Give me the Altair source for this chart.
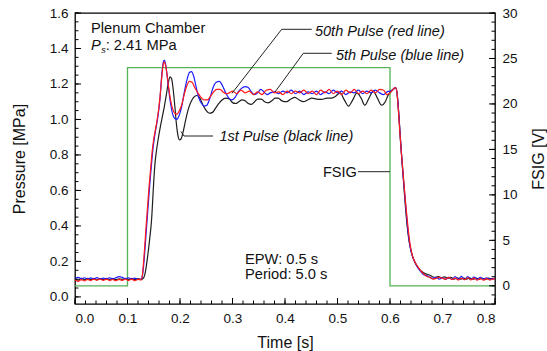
import altair as alt
import pandas as pd

# ---------------- data ----------------
red_t = [0.000,0.006,0.012,0.018,0.024,0.030,0.036,0.042,0.048,0.054,0.060,0.066,0.072,0.078,0.084,0.090,0.096,0.102,0.108,0.114,0.120,0.126,
         0.129,0.132,0.135,0.138,0.141,0.144,0.147,0.150,0.153,0.156,0.159,0.162,0.165,0.168,0.170,0.172,0.175,0.178,0.182,0.186,0.190,0.194,0.198,
         0.203,0.208,0.213,0.218,0.223,0.228,0.234,0.240,0.246,0.252,0.258,0.264,0.270,0.276,0.282,0.288,0.294,0.300,
         0.308,0.316,0.324,0.332,0.340,0.348,0.356,0.364,0.372,0.380,0.388,0.396,0.404,0.412,0.420,0.428,0.436,0.444,0.452,0.460,0.468,0.476,
         0.484,0.492,0.500,0.508,0.516,0.524,0.532,0.540,0.548,0.556,0.564,0.572,0.580,0.588,0.594,0.600,0.606,0.610,0.613,0.616,0.619,0.622,
         0.626,0.630,0.634,0.638,0.642,0.647,0.652,0.658,0.664,0.670,0.676,0.682,0.688,0.694,0.700,0.706,0.712,0.718,0.724,0.730,0.736,0.742,
         0.748,0.754,0.760,0.766,0.772,0.778,0.784,0.790,0.796,0.800]
red_p = [0.095,0.088,0.097,0.090,0.099,0.092,0.100,0.094,0.101,0.093,0.100,0.092,0.098,0.091,0.099,0.093,0.101,0.092,0.100,0.091,0.099,0.095,
         0.14,0.25,0.38,0.50,0.62,0.72,0.82,0.89,0.94,0.99,1.05,1.13,1.23,1.31,1.325,1.31,1.26,1.19,1.11,1.06,1.035,1.03,1.045,
         1.08,1.14,1.19,1.215,1.21,1.18,1.15,1.125,1.11,1.11,1.13,1.155,1.17,1.17,1.155,1.145,1.15,1.16,
         1.145,1.165,1.15,1.16,1.14,1.155,1.14,1.165,1.17,1.15,1.155,1.14,1.16,1.145,1.16,1.15,1.165,1.145,1.16,1.14,1.165,1.15,
         1.17,1.145,1.16,1.14,1.165,1.15,1.17,1.145,1.16,1.145,1.165,1.15,1.17,1.165,1.14,1.15,1.17,1.18,1.16,1.05,0.92,0.80,
         0.66,0.52,0.40,0.30,0.24,0.20,0.175,0.15,0.13,0.115,0.11,0.10,0.105,0.11,0.105,0.10,0.11,0.098,0.106,0.095,0.105,0.097,
         0.108,0.096,0.106,0.094,0.104,0.094,0.103,0.095,0.102,0.100]

blue_t = [0.000,0.006,0.012,0.018,0.024,0.030,0.036,0.042,0.048,0.054,0.060,0.066,0.072,0.078,0.084,0.090,0.096,0.102,0.108,0.114,0.120,0.126,
          0.129,0.132,0.135,0.138,0.141,0.144,0.147,0.150,0.153,0.156,0.159,0.162,0.165,0.168,0.170,0.172,0.175,0.178,0.182,0.186,0.190,0.194,0.198,
          0.203,0.208,0.213,0.218,0.222,0.226,0.231,0.236,0.241,0.246,0.251,0.257,0.263,0.269,0.275,0.281,0.287,0.293,0.299,0.305,0.311,0.317,
          0.324,0.330,0.336,0.342,0.348,0.354,0.360,0.366,0.372,0.380,0.388,0.396,0.404,0.412,0.420,0.428,0.436,0.444,0.452,0.460,0.468,0.476,
          0.484,0.492,0.500,0.508,0.516,0.524,0.532,0.540,0.548,0.556,0.564,0.572,0.580,0.588,0.594,0.600,0.606,0.610,0.613,0.616,0.619,0.622,
          0.626,0.630,0.634,0.638,0.642,0.647,0.652,0.658,0.664,0.670,0.676,0.682,0.688,0.694,0.700,0.706,0.712,0.718,0.724,0.730,0.736,0.742,
          0.748,0.754,0.760,0.766,0.772,0.778,0.784,0.790,0.796,0.800]
blue_p = [0.105,0.110,0.102,0.108,0.100,0.107,0.101,0.109,0.100,0.106,0.102,0.108,0.101,0.108,0.114,0.110,0.103,0.108,0.100,0.106,0.098,0.100,
          0.13,0.22,0.34,0.46,0.58,0.69,0.79,0.87,0.93,0.98,1.04,1.12,1.24,1.32,1.335,1.32,1.26,1.18,1.09,1.03,1.005,1.0,1.02,
          1.07,1.15,1.22,1.265,1.27,1.245,1.18,1.12,1.09,1.075,1.08,1.12,1.18,1.21,1.215,1.19,1.15,1.12,1.11,1.125,1.155,1.175,
          1.185,1.18,1.155,1.14,1.15,1.17,1.155,1.14,1.15,1.155,1.145,1.16,1.15,1.165,1.145,1.16,1.14,1.155,1.145,1.16,1.14,1.155,
          1.145,1.165,1.15,1.16,1.14,1.155,1.15,1.165,1.145,1.16,1.15,1.165,1.15,1.14,1.155,1.16,1.17,1.18,1.16,1.06,0.93,0.80,
          0.65,0.51,0.38,0.29,0.235,0.20,0.17,0.145,0.125,0.12,0.11,0.105,0.11,0.10,0.108,0.098,0.11,0.098,0.115,0.098,0.116,0.097,
          0.114,0.098,0.112,0.099,0.11,0.10,0.108,0.10,0.105,0.10]

black_t = [0.000,0.006,0.012,0.018,0.024,0.030,0.036,0.042,0.048,0.054,0.060,0.066,0.072,0.078,0.084,0.090,0.096,0.102,0.108,0.114,0.120,0.126,
           0.130,0.134,0.138,0.142,0.146,0.149,0.152,0.155,0.158,0.162,0.166,0.170,0.174,0.178,0.181,0.184,0.187,0.190,0.193,0.196,0.199,0.202,
           0.206,0.211,0.216,0.221,0.226,0.232,0.238,0.244,0.250,0.256,0.262,0.268,0.274,0.280,0.287,0.294,0.300,0.306,0.312,0.318,0.324,0.330,
           0.336,0.342,0.348,0.355,0.361,0.368,0.375,0.381,0.387,0.394,0.403,0.411,0.419,0.427,0.435,0.443,0.451,0.460,0.470,0.480,0.488,0.496,
           0.505,0.513,0.521,0.529,0.537,0.545,0.552,0.560,0.568,0.576,0.584,0.591,0.597,0.603,0.608,0.611,0.614,0.617,0.620,0.624,0.628,0.632,
           0.636,0.640,0.645,0.650,0.656,0.662,0.668,0.674,0.680,0.686,0.692,0.698,0.704,0.710,0.716,0.722,0.728,0.734,0.740,0.746,0.752,0.758,
           0.764,0.770,0.776,0.782,0.788,0.794,0.800]
black_p = [0.100,0.095,0.104,0.097,0.105,0.098,0.104,0.096,0.103,0.097,0.104,0.098,0.103,0.097,0.102,0.099,0.104,0.098,0.104,0.097,0.103,0.099,
           0.105,0.14,0.22,0.32,0.44,0.60,0.74,0.82,0.88,0.95,1.01,1.07,1.14,1.21,1.24,1.23,1.17,1.08,0.98,0.91,0.885,0.89,
           0.93,1.0,1.06,1.10,1.125,1.135,1.12,1.08,1.05,1.035,1.04,1.065,1.09,1.11,1.12,1.115,1.095,1.09,1.10,1.11,1.105,1.09,
           1.085,1.10,1.115,1.115,1.10,1.094,1.105,1.12,1.12,1.105,1.10,1.115,1.124,1.11,1.10,1.11,1.12,1.115,1.113,1.12,1.12,1.13,
           1.15,1.11,1.075,1.11,1.15,1.12,1.08,1.12,1.16,1.12,1.08,1.10,1.14,1.16,1.175,1.18,1.13,1.02,0.88,0.72,0.56,0.42,
           0.32,0.26,0.21,0.18,0.155,0.14,0.13,0.125,0.115,0.11,0.115,0.108,0.113,0.105,0.11,0.10,0.108,0.10,0.106,0.10,0.107,0.099,
           0.106,0.10,0.105,0.098,0.106,0.10,0.105]

fsig_t = [0.0, 0.1, 0.1, 0.6, 0.6, 0.8]
fsig_v = [0, 0, 24, 24, 0, 0]

# axis tick values
x_labels = [0.0, 0.1, 0.2, 0.3, 0.4, 0.5, 0.6, 0.7, 0.8]
p_labels = [0.0, 0.2, 0.4, 0.6, 0.8, 1.0, 1.2, 1.4, 1.6]
v_labels = [0, 5, 10, 15, 20, 25, 30]
x_minor = [round(i * 0.02, 2) for i in range(41)]
p_minor = [round(i * 0.05, 2) for i in range(33)]
v_minor = list(range(-2, 31))

# annotation positions in data units (t, p)
leader_id = [0, 0, 0, 1, 1, 1, 2, 2, 2, 3, 3]
leader_t = [0.4509, 0.3937, 0.2990, 0.4890, 0.4349, 0.3810, 0.2629, 0.2076, 0.2019, 0.5390, 0.6000]
leader_p = [1.5081, 1.5081, 1.1475, 1.3729, 1.3729, 1.1548, 0.9068, 0.9068, 0.9322, 0.7056, 0.7056]

ital_text = ["50th Pulse (red line)", "5th Pulse (blue line)", "1st Pulse (black line)"]
ital_t = [0.4571, 0.4971, 0.2752]
ital_p = [1.4704, 1.3379, 0.8803]

plain_text = ["Plenum Chamber", ": 2.41 MPa", "EPW: 0.5 s", "Period: 5.0 s"]
plain_t = [0.0305, 0.0585, 0.3238, 0.3238]
plain_p = [1.4845, 1.3915, 0.1854, 0.0992]

FONT = "Liberation Sans"
P_DOM = [-0.04, 1.6]
V_DOM = [-2, 30]
W, H = 420, 291


def xenc():
    return alt.X("t:Q", scale=alt.Scale(domain=[0, 0.8], nice=False, zero=False),
                 axis=alt.Axis(values=x_labels, format=".1f", title="Time [s]", ticks=False, tickSize=0,
                               domain=False, grid=False, labelPadding=7, titleY=38, titleBaseline="middle"))


def pscale():
    return alt.Scale(domain=P_DOM, nice=False, zero=False)


def vscale():
    return alt.Scale(domain=V_DOM, nice=False, zero=False)


def series_df(t, p):
    return pd.DataFrame({"t": t, "p": p, "i": list(range(len(t)))})


# FSIG (right axis)
fsig = alt.Chart(pd.DataFrame({"t": fsig_t, "v": fsig_v, "i": list(range(len(fsig_t)))})).mark_line(
    color="#55b355", strokeWidth=1.3
).encode(
    x=xenc(),
    y=alt.Y("v:Q", scale=vscale(),
            axis=alt.Axis(orient="right", values=v_labels, title="FSIG [V]", ticks=False, tickSize=0, domain=False,
                          grid=False, labelPadding=7, titleAngle=270, titleX=43, titleBaseline="middle")),
    order="i:Q",
)


def pline(t, p, color, with_axis=False):
    if with_axis:
        ax = alt.Axis(orient="left", values=p_labels, format=".1f", title="Pressure [MPa]", ticks=False, tickSize=0,
                      domain=False, grid=False, labelPadding=7, titleAngle=270, titleX=-56, titleBaseline="middle")
    else:
        ax = None
    return alt.Chart(series_df(t, p)).mark_line(color=color, strokeWidth=1.2, interpolate="monotone").encode(
        x=xenc(), y=alt.Y("p:Q", scale=pscale(), axis=ax), order="i:Q")


black = pline(black_t, black_p, "#1e1e1e", with_axis=True)
blue = pline(blue_t, blue_p, "#1a1aff")
red = pline(red_t, red_p, "#ff1a1a")


# inward ticks
def xticks(vals, length):
    return alt.Chart(pd.DataFrame({"t": vals})).mark_rule(color="black", strokeWidth=1).encode(
        x=xenc(), y=alt.value(H), y2=alt.value(H - length))


def pticks(vals, length):
    return alt.Chart(pd.DataFrame({"p": vals})).mark_rule(color="black", strokeWidth=1).encode(
        y=alt.Y("p:Q", scale=pscale(), axis=None), x=alt.value(0), x2=alt.value(length))


def vticks(vals, length):
    return alt.Chart(pd.DataFrame({"v": vals})).mark_rule(color="black", strokeWidth=1).encode(
        y=alt.Y("v:Q", scale=vscale(), axis=None), x=alt.value(W), x2=alt.value(W - length))


ticks = [xticks(x_labels, 6), xticks(x_minor, 3.5), pticks(p_labels, 6), pticks(p_minor, 3.5),
         vticks(v_labels, 6), vticks(v_minor, 3.5)]

leaders = alt.Chart(pd.DataFrame({"g": leader_id, "t": leader_t, "p": leader_p,
                                  "i": list(range(len(leader_t)))})).mark_line(color="#222", strokeWidth=1).encode(
    x=xenc(), y=alt.Y("p:Q", scale=pscale(), axis=None), detail="g:N", order="i:Q")

ital = alt.Chart(pd.DataFrame({"s": ital_text, "t": ital_t, "p": ital_p})).mark_text(
    font=FONT, fontSize=14.5, fontStyle="italic", align="left", baseline="alphabetic", color="#111"
).encode(x=xenc(), y=alt.Y("p:Q", scale=pscale(), axis=None), text="s:N")

plain = alt.Chart(pd.DataFrame({"s": plain_text, "t": plain_t, "p": plain_p})).mark_text(
    font=FONT, fontSize=14.7, align="left", baseline="alphabetic", color="#111"
).encode(x=xenc(), y=alt.Y("p:Q", scale=pscale(), axis=None), text="s:N")

fsig_lbl = alt.Chart(pd.DataFrame({"s": ["FSIG"], "t": [0.5371], "p": [0.6774]})).mark_text(
    font=FONT, fontSize=14.6, align="right", baseline="alphabetic", color="#111"
).encode(x=xenc(), y=alt.Y("p:Q", scale=pscale(), axis=None), text="s:N")

p_sym = alt.Chart(pd.DataFrame({"s": ["P"], "t": [0.0305], "p": [1.3915]})).mark_text(
    font=FONT, fontSize=14.7, fontStyle="italic", align="left", baseline="alphabetic", color="#111"
).encode(x=xenc(), y=alt.Y("p:Q", scale=pscale(), axis=None), text="s:N")

s_sub = alt.Chart(pd.DataFrame({"s": ["s"], "t": [0.0500], "p": [1.3718]})).mark_text(
    font=FONT, fontSize=9, fontStyle="italic", align="left", baseline="alphabetic", color="#111"
).encode(x=xenc(), y=alt.Y("p:Q", scale=pscale(), axis=None), text="s:N")

chart = alt.layer(
    fsig, black, blue, red, *ticks, leaders, ital, plain, fsig_lbl, p_sym, s_sub
).resolve_scale(y="independent").properties(
    width=W, height=H,
    background="white",
    autosize=alt.AutoSizeParams(type="none"),
    padding={"left": 75, "top": 13, "right": 52, "bottom": 47},
).configure_view(stroke="black", strokeWidth=1.3).configure_axis(
    labelFont=FONT, labelFontSize=13.5, labelColor="#111", titleFont=FONT, titleFontSize=16,
    titleFontWeight="normal", titleColor="#111"
)

chart.save("out.html", embed_options={"renderer": "svg", "actions": False})
